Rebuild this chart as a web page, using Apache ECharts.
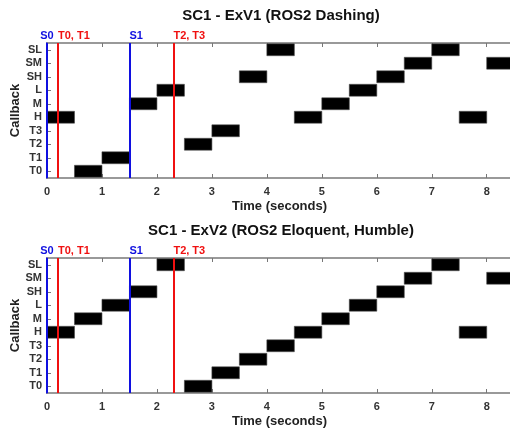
<!DOCTYPE html>
<html>
<head>
<meta charset="utf-8">
<script src="https://cdn.jsdelivr.net/npm/echarts@6/dist/echarts.min.js"></script>
<style>
  html, body { margin: 0; padding: 0; background: #fff; }
  #chart { width: 510px; height: 432px; }
</style>
</head>
<body>
<div id="chart"></div>
<script>
// callbacks, bottom to top
var callbacks = ['T0', 'T1', 'T2', 'T3', 'H', 'M', 'L', 'SH', 'SM', 'SL']
var xTicks = [0, 1, 2, 3, 4, 5, 6, 7, 8]

// [callback, start, end] in seconds
var exv1Bars = [
  ['H', 0, 0.5], ['T0', 0.5, 1], ['T1', 1, 1.5], ['M', 1.5, 2], ['L', 2, 2.5],
  ['T2', 2.5, 3], ['T3', 3, 3.5], ['SH', 3.5, 4], ['SL', 4, 4.5], ['H', 4.5, 5],
  ['M', 5, 5.5], ['L', 5.5, 6], ['SH', 6, 6.5], ['SM', 6.5, 7], ['SL', 7, 7.5],
  ['H', 7.5, 8], ['SM', 8, 8.5]
]
var exv2Bars = [
  ['H', 0, 0.5], ['M', 0.5, 1], ['L', 1, 1.5], ['SH', 1.5, 2], ['SL', 2, 2.5],
  ['T0', 2.5, 3], ['T1', 3, 3.5], ['T2', 3.5, 4], ['T3', 4, 4.5], ['H', 4.5, 5],
  ['M', 5, 5.5], ['L', 5.5, 6], ['SH', 6, 6.5], ['SM', 6.5, 7], ['SL', 7, 7.5],
  ['H', 7.5, 8], ['SM', 8, 8.5]
]

// release markers
var markNames = ['S0', 'T0, T1', 'S1', 'T2, T3']
var markTimes = [0, 0.2, 1.5, 2.3]
var markColors = ['#1010e0', '#f01010', '#1010e0', '#f01010']

var titles = ['SC1 - ExV1 (ROS2 Dashing)', 'SC1 - ExV2 (ROS2 Eloquent, Humble)']
var font = 'Liberation Sans, Arial, sans-serif'

var myChart = echarts.init(document.getElementById('chart'))

function renderBar (params, api) {
  var y = api.value(0)
  var p0 = api.coord([api.value(1), y])
  var p1 = api.coord([api.value(2), y])
  var h = api.size([0, 1])[1] * 0.88
  var shape = echarts.graphic.clipRectByRect({
    x: p0[0], y: p0[1] - h / 2, width: p1[0] - p0[0], height: h
  }, {
    x: params.coordSys.x, y: params.coordSys.y,
    width: params.coordSys.width, height: params.coordSys.height
  })
  return shape && {
    type: 'rect',
    shape: shape,
    style: { fill: '#000', stroke: '#444', lineWidth: 0.6 }
  }
}

function markData () {
  return markNames.map(function (n, i) {
    return {
      xAxis: markTimes[i],
      lineStyle: { color: markColors[i], width: 2, type: 'solid' },
      label: {
        show: true,
        formatter: n,
        position: 'end',
        color: markColors[i],
        fontFamily: font,
        fontWeight: 'bold',
        fontSize: 11,
        distance: 2,
        align: i === 0 ? 'center' : 'left',
        offset: [0, 0]
      }
    }
  })
}

var tops = [43, 258]
var grids = []
var xAxes = []
var yAxes = []
var series = []
var titleList = []

;[exv1Bars, exv2Bars].forEach(function (bars, g) {
  grids.push({
    left: 47, right: -2, top: tops[g], height: 135,
    outerBoundsMode: 'none', containLabel: false,
    show: true, borderColor: '#8a8a8a', borderWidth: 1
  })
  titleList.push({
    text: titles[g], left: 276, top: tops[g] - 40, textAlign: 'center',
    textStyle: { fontFamily: font, fontWeight: 'bold', fontSize: 15, color: '#111' }
  })
  xAxes.push({
    type: 'value', gridIndex: g, min: 0, max: 8.46, interval: 1,
    name: 'Time (seconds)', nameLocation: 'middle', nameGap: 22,
    nameTextStyle: { fontFamily: font, fontWeight: 'bold', fontSize: 13, color: '#222' },
    axisLine: { show: true, lineStyle: { color: '#8a8a8a', width: 1.5 } },
    axisTick: { show: true, inside: true, length: 4, lineStyle: { color: '#777' } },
    axisLabel: {
      fontFamily: font, fontWeight: 'bold', fontSize: 11, color: '#333', margin: 8,
      formatter: function (v) { return xTicks.indexOf(v) >= 0 ? String(v) : '' }
    },
    splitLine: { show: false }
  })
  xAxes.push({
    type: 'value', gridIndex: g, position: 'top', min: 0, max: 8.46, interval: 1,
    axisLine: { show: true, lineStyle: { color: '#8a8a8a', width: 1.5 } },
    axisTick: { show: true, inside: true, length: 4, lineStyle: { color: '#777' } },
    axisLabel: { show: false },
    splitLine: { show: false }
  })
  yAxes.push({
    type: 'category', gridIndex: g, data: callbacks,
    name: 'Callback', nameLocation: 'middle', nameGap: 25, nameMoveOverlap: false,
    nameTextStyle: { fontFamily: font, fontWeight: 'bold', fontSize: 13, color: '#222' },
    axisLine: { show: true, lineStyle: { color: '#1010e0', width: 2 } },
    axisTick: { show: true, inside: true, alignWithLabel: true, interval: 0, length: 4, lineStyle: { color: '#777' } },
    axisLabel: { interval: 0, fontFamily: font, fontWeight: 'bold', fontSize: 11, color: '#333', margin: 5 },
    splitLine: { show: false }
  })
  series.push({
    type: 'custom',
    xAxisIndex: g * 2,
    yAxisIndex: g,
    renderItem: renderBar,
    encode: { x: [1, 2], y: 0 },
    data: bars.map(function (b) { return [callbacks.indexOf(b[0]), b[1], b[2]] }),
    markLine: { symbol: 'none', silent: true, animation: false, data: markData() },
    z: 2
  })
})

var option = {
  backgroundColor: '#fff',
  animation: false,
  title: titleList,
  grid: grids,
  xAxis: xAxes,
  yAxis: yAxes,
  series: series
}

myChart.setOption(option)
</script>
</body>
</html>
